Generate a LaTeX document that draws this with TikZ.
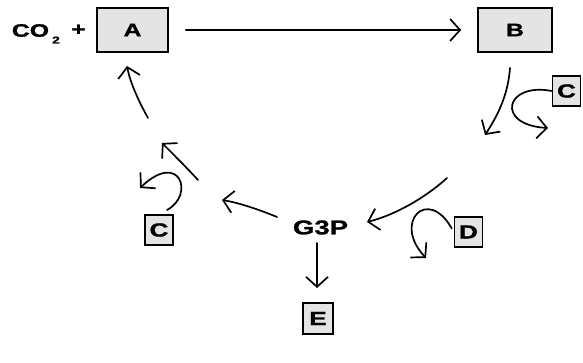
\documentclass[tikz,border=0pt]{standalone}
\usepackage{fontspec}
\setmainfont{Liberation Sans}
\newfontfamily\lab[FakeStretch=1.38,FakeBold=1.2]{Liberation Sans}
\usetikzlibrary{arrows.meta}
\definecolor{boxgray}{HTML}{E4E4E4}
\newcommand\labsize[1]{\lab\bfseries\fontsize{#1}{#1}\selectfont}
\begin{document}
\begin{tikzpicture}[x=1pt,y=-1pt,
  box/.style={draw=black, line width=1.6pt, fill=boxgray, inner sep=0pt},
  bigbox/.style={box, minimum width=71pt, minimum height=44pt, font=\labsize{18pt}},
  tag/.style={box, minimum width=28pt, minimum height=30pt, font=\labsize{19pt}},
  word/.style={inner sep=0pt, font=\labsize{18pt}},
  flow/.style={line width=1.7pt, line cap=round,
    -{Straight Barb[length=10pt,width=22pt,line width=1.7pt]}},
]
\useasboundingbox[fill=white] (0,0) rectangle (583,363);

% boxes and labels
\node[bigbox] (A) at (132.5,30) {A};
\node[bigbox, minimum width=74pt] (B) at (515,30) {B};
\node[word] (co) at (30.5,30.5) {CO};
\node[inner sep=0pt, font=\labsize{10pt}] (two) at (56,40) {2};
\node[word] (plus) at (78.5,30) {+};
\node[tag] (cR) at (566.5,91) {C};
\node[tag] (cL) at (159,230) {C};
\node[tag] (D) at (468.5,232) {D};
\node[tag, minimum height=31pt, minimum width=30pt] (E) at (318,318.5) {E};
\node[word, font=\labsize{20pt}] (G) at (320.5,227.5) {G3P};

% free ends of the cycle arrows
\coordinate (bOut) at (510,68);
\coordinate (bIn)  at (485,135);
\coordinate (cROut) at (548,128);
\coordinate (gFrom) at (447,178);
\coordinate (gTip)  at (367,222);
\coordinate (dOut)  at (426,258);
\coordinate (lFrom) at (277,217);
\coordinate (lTip)  at (222,200);
\coordinate (uFrom) at (198,180);
\coordinate (uTip)  at (162,143);
\coordinate (cLStart) at (167,210);
\coordinate (cLOut) at (140,188);
\coordinate (aFrom) at (148,118);
\coordinate (aTip)  at (127,66);
\coordinate (eFrom) at (317,243);
\coordinate (eTip)  at (317,288);

% main carboxylation arrow
\draw[flow, shorten <=17pt, shorten >=16pt] (A.east) -- (B.west);

% reduction step
\draw[flow] (bOut) .. controls (508,95) and (498,115) .. (bIn);
\draw[flow] (cR.west) .. controls (505,82) and (495,125) .. (cROut);

% G3P formation and branch
\draw[flow] (gFrom) .. controls (425,198) and (395,215) .. (gTip);
\draw[flow, shorten <=4pt] (D.west) .. controls (428,186) and (392,222) .. (dOut);
\draw[flow] (eFrom) -- (eTip);

% regeneration back to A
\draw[flow] (lFrom) .. controls (260,210) and (240,203) .. (lTip);
\draw[flow] (uFrom) .. controls (186,167) and (174,155) .. (uTip);
\draw[flow] (cLStart) .. controls (195,195) and (180,150) .. (cLOut);
\draw[flow] (aFrom) .. controls (138,100) and (130,82) .. (aTip);
\end{tikzpicture}
\end{document}
